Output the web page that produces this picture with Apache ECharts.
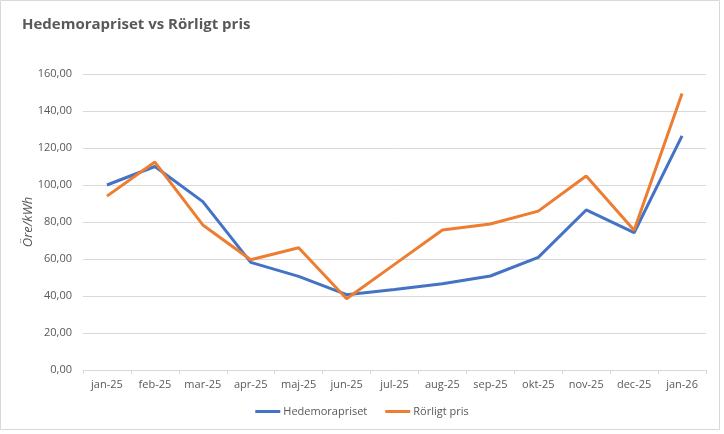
<!DOCTYPE html>
<html><head><meta charset="utf-8">
<script src="https://cdn.jsdelivr.net/npm/echarts@6/dist/echarts.min.js"></script>
<style>html,body{margin:0;padding:0;background:#fff;}#c{width:724px;height:434px;}</style>
</head><body><div id="c"></div>
<script>
const categories = ['jan-25','feb-25','mar-25','apr-25','maj-25','jun-25','jul-25','aug-25','sep-25','okt-25','nov-25','dec-25','jan-26'];
const hedemorapriset = [100.0, 110.0, 91.0, 58.2, 50.6, 40.7, 43.5, 46.6, 50.8, 60.9, 86.5, 74.2, 126.6];
const rorligtPris = [94.0, 112.4, 78.4, 59.6, 66.1, 38.5, 57.1, 75.7, 78.9, 85.9, 104.9, 75.5, 149.4];
const yTicks = {min: 0, max: 160, interval: 20};
const font = 'Open Sans, Liberation Sans, sans-serif';
const chart = echarts.init(document.getElementById('c'));
chart.setOption({
  animation: false,
  backgroundColor: '#fff',
  title: {text: 'Hedemorapriset vs Rörligt pris', left: 17, top: 12,
    textStyle: {fontFamily: font, fontSize: 15, fontWeight: 'bold', color: '#595959'}},
  grid: {left: 83, right: 18, top: 74, bottom: 64, containLabel: false},
  legend: {bottom: 12, left: 'center', itemWidth: 25, itemHeight: 3, itemGap: 18, icon: 'rect',
    textStyle: {fontFamily: font, fontSize: 11, color: '#595959', padding: [0, 0, 0, -2]},
    data: ['Hedemorapriset', 'Rörligt pris']},
  xAxis: {type: 'category', data: categories, boundaryGap: true,
    axisLine: {lineStyle: {color: '#d9d9d9', width: 1}},
    axisTick: {show: true, length: 4, lineStyle: {color: '#d9d9d9'}},
    axisLabel: {fontFamily: font, fontSize: 11, color: '#595959', margin: 9, interval: 0}},
  yAxis: {type: 'value', min: yTicks.min, max: yTicks.max, interval: yTicks.interval,
    name: 'Öre/kWh', nameLocation: 'middle', nameGap: 48, nameRotate: 90, nameMoveOverlap: false,
    nameTextStyle: {fontFamily: font, fontSize: 13, color: '#595959', fontStyle: 'italic'},
    axisLine: {show: false}, axisTick: {show: false},
    splitLine: {lineStyle: {color: '#d9d9d9', width: 1}},
    axisLabel: {fontFamily: font, fontSize: 11, color: '#595959', margin: 11,
      formatter: v => v.toFixed(2).replace('.', ',')}},
  series: [
    {name: 'Hedemorapriset', type: 'line', data: hedemorapriset, symbol: 'none',
      lineStyle: {color: '#4472C4', width: 3}, itemStyle: {color: '#4472C4'}},
    {name: 'Rörligt pris', type: 'line', data: rorligtPris, symbol: 'none',
      lineStyle: {color: '#ED7D31', width: 3}, itemStyle: {color: '#ED7D31'}}
  ],
  graphic: [{type: 'rect', shape: {x: 0.5, y: 0.5, width: 719, height: 429}, z: -1,
    style: {fill: 'none', stroke: '#d9d9d9', lineWidth: 1}}]
});
</script></body></html>
